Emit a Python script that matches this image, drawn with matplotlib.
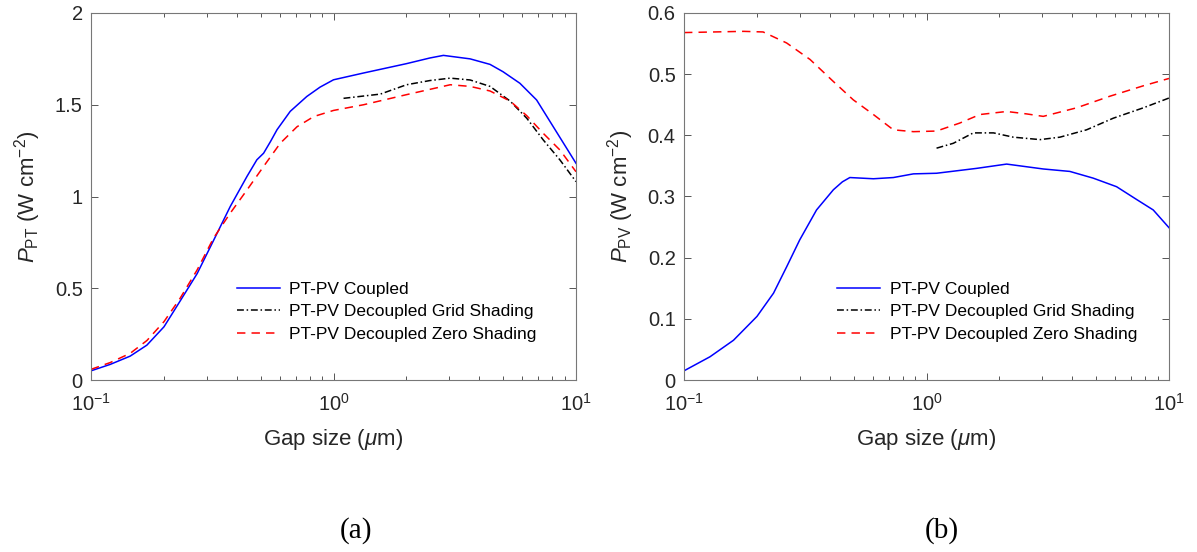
import matplotlib
matplotlib.use("Agg")
import matplotlib.pyplot as plt
from matplotlib.ticker import LogLocator, FixedLocator, NullFormatter

plt.rcParams['font.family'] = ['Liberation Sans', 'DejaVu Sans']
plt.rcParams['mathtext.fontset'] = 'custom'
plt.rcParams['mathtext.rm'] = 'Liberation Sans'
plt.rcParams['mathtext.it'] = 'Liberation Sans:italic'
plt.rcParams['mathtext.bf'] = 'Liberation Sans:bold'

# (a) P_PT
pt_coupled_x = [0.10, 0.12, 0.145, 0.17, 0.20, 0.233, 0.274, 0.32, 0.375, 0.44, 0.483, 0.515,
                0.55, 0.585, 0.663, 0.776, 0.88, 1.00, 1.33, 2.00, 2.5, 2.84, 3.66, 4.42,
                5.0, 5.87, 6.88, 8.06, 10.0]
pt_coupled_y = [0.050, 0.085, 0.130, 0.190, 0.290, 0.430, 0.580, 0.760, 0.945, 1.110, 1.200, 1.236,
                1.300, 1.364, 1.464, 1.545, 1.596, 1.636, 1.673, 1.724, 1.755, 1.769, 1.750, 1.720,
                1.680, 1.617, 1.526, 1.380, 1.181]

pt_grid_x = [1.10, 1.56, 2.00, 2.5, 3.03, 3.66, 4.42, 5.35, 6.27, 7.33, 8.59, 10.0]
pt_grid_y = [1.535, 1.558, 1.609, 1.632, 1.645, 1.635, 1.600, 1.520, 1.426, 1.308, 1.199, 1.081]

pt_zero_x = [0.10, 0.12, 0.145, 0.17, 0.20, 0.233, 0.274, 0.32, 0.375, 0.44, 0.515, 0.603,
             0.707, 0.83, 1.00, 1.33, 2.00, 3.03, 3.66, 4.42, 5.35, 6.27, 7.33, 8.59, 10.0]
pt_zero_y = [0.058, 0.095, 0.145, 0.215, 0.318, 0.445, 0.600, 0.773, 0.909, 1.036, 1.164, 1.290,
             1.380, 1.436, 1.469, 1.500, 1.555, 1.609, 1.600, 1.575, 1.520, 1.440, 1.344, 1.253, 1.135]

# (b) P_PV
pv_coupled_x = [0.10, 0.128, 0.16, 0.20, 0.234, 0.265, 0.30, 0.352, 0.413, 0.45, 0.483, 0.604, 0.73,
                0.883, 1.10, 1.61, 2.14, 3.03, 3.90, 4.87, 6.08, 7.36, 8.61, 10.0]
pv_coupled_y = [0.015, 0.038, 0.065, 0.104, 0.142, 0.185, 0.229, 0.278, 0.311, 0.324, 0.331, 0.329, 0.331,
                0.337, 0.338, 0.346, 0.353, 0.345, 0.341, 0.330, 0.316, 0.295, 0.278, 0.249]

pv_grid_x = [1.10, 1.29, 1.56, 1.89, 2.28, 2.94, 3.55, 4.57, 5.89, 7.84, 10.0]
pv_grid_y = [0.379, 0.387, 0.404, 0.404, 0.397, 0.393, 0.397, 0.409, 0.428, 0.445, 0.461]

pv_zero_x = [0.10, 0.176, 0.212, 0.265, 0.331, 0.413, 0.499, 0.604, 0.73, 0.883, 1.10, 1.37,
             1.66, 2.14, 2.59, 3.03, 4.16, 5.71, 7.84, 10.0]
pv_zero_y = [0.568, 0.570, 0.569, 0.551, 0.524, 0.488, 0.458, 0.434, 0.409, 0.406, 0.407, 0.420,
             0.434, 0.439, 0.435, 0.431, 0.445, 0.464, 0.481, 0.493]

labels = ["PT-PV Coupled", "PT-PV Decoupled Grid Shading", "PT-PV Decoupled Zero Shading"]
x_ticks = [0.1, 1, 10]
x_ticklabels = [r"$10^{-1}$", r"$10^{0}$", r"$10^{1}$"]

fig = plt.figure(figsize=(11.97, 5.52), dpi=100)
ax1 = fig.add_axes([91 / 1197, 1 - 380 / 552, 485 / 1197, 367 / 552])
ax2 = fig.add_axes([684 / 1197, 1 - 380 / 552, 485 / 1197, 367 / 552])

panels = [
    (ax1, pt_coupled_x, pt_coupled_y, pt_grid_x, pt_grid_y, pt_zero_x, pt_zero_y,
     (0, 2), [0, 0.5, 1, 1.5, 2], ["0", "0.5", "1", "1.5", "2"],
     r"$P_{\mathrm{PT}}$ (W cm$^{-2}$)", "(a)", 356, 0.300),
    (ax2, pv_coupled_x, pv_coupled_y, pv_grid_x, pv_grid_y, pv_zero_x, pv_zero_y,
     (0, 0.6), [0, 0.1, 0.2, 0.3, 0.4, 0.5, 0.6], ["0", "0.1", "0.2", "0.3", "0.4", "0.5", "0.6"],
     r"$P_{\mathrm{PV}}$ (W cm$^{-2}$)", "(b)", 942, 0.315),
]

for ax, cx, cy, gx, gy, zx, zy, ylim, yt, ytl, ylab, tag, tag_x, leg_x in panels:
    ax.plot(cx, cy, color="#0000ff", lw=1.1, label=labels[0])
    ax.plot(gx, gy, color="black", lw=1.1, ls=(0, (4.5, 1.8, 1, 1.8)), label=labels[1])
    ax.plot(zx, zy, color="#ff0000", lw=1.1, ls=(0, (5.5, 4)), label=labels[2])
    ax.set_xscale("log")
    ax.set_xlim(0.1, 10)
    ax.set_ylim(*ylim)
    ax.xaxis.set_major_locator(FixedLocator(x_ticks))
    ax.set_xticklabels(x_ticklabels)
    ax.xaxis.set_minor_locator(LogLocator(base=10, subs=range(2, 10)))
    ax.xaxis.set_minor_formatter(NullFormatter())
    ax.set_yticks(yt)
    ax.set_yticklabels(ytl)
    ax.tick_params(which="both", direction="in", top=True, right=True, color="#555555",
                   labelcolor="#262626", labelsize=14.5)
    ax.tick_params(which="major", length=5, width=0.7)
    ax.tick_params(which="minor", length=3, width=0.7)
    ax.tick_params(axis="x", which="major", pad=9)
    ax.tick_params(axis="y", which="major", pad=6)
    for s in ax.spines.values():
        s.set_color("#777777")
        s.set_linewidth(0.8)
    ax.set_xlabel(r"Gap size ($\mu$m)", fontsize=16, color="#262626", va="top")
    ax.xaxis.set_label_coords(0.5, -0.128)
    ax.set_ylabel(ylab, fontsize=16, color="#262626")
    ax.yaxis.set_label_coords(-0.098, 0.5)
    ax.legend(loc="upper left", bbox_to_anchor=(leg_x, 0.268),
              frameon=False, fontsize=12.5, handlelength=2.5, handletextpad=0.55,
              labelspacing=0.42, borderpad=0, borderaxespad=0)
    fig.text(tag_x / 1197, 1 - 531 / 552, tag, ha="center", va="center",
             fontsize=21, family="Liberation Serif")

fig.savefig("out.png", dpi=100)
